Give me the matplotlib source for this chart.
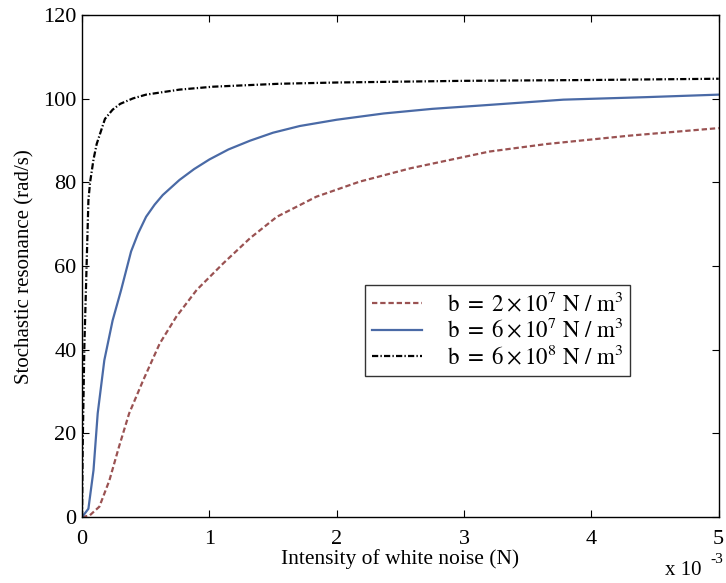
import numpy as np
import matplotlib.pyplot as plt

plt.rcParams['font.family'] = ['Liberation Serif', 'DejaVu Serif']
plt.rcParams['mathtext.fontset'] = 'stix'

# x in units of 1e-3 N
X_LOW = [0, 0.06, 0.136, 0.215, 0.29, 0.37, 0.48, 0.61, 0.74, 0.9, 1.11, 1.32, 1.53,
         1.84, 2.18, 2.58, 2.89, 3.2, 3.65, 4.3, 5.0]
Y_LOW = [0, 0.4, 2.5, 8.8, 16.8, 24.8, 32.7, 41.5, 47.9, 54.3, 60.7, 66.7, 71.8,
         76.6, 80.2, 83.4, 85.4, 87.4, 89.2, 91.2, 93.0]

X_MID = [0, 0.05, 0.09, 0.123, 0.175, 0.24, 0.306, 0.385, 0.44, 0.503, 0.57, 0.634,
         0.765, 0.88, 1.0, 1.15, 1.32, 1.5, 1.71, 2.0, 2.37, 2.75, 3.13, 3.78, 4.43, 5.0]
Y_MID = [0, 2.0, 11.2, 24.8, 37.5, 47.0, 54.2, 63.5, 67.8, 71.8, 74.7, 77.0,
         80.6, 83.2, 85.5, 87.9, 90.0, 91.9, 93.5, 95.0, 96.5, 97.6, 98.4, 99.8, 100.4, 101.0]

X_HIGH = [0, 0.005, 0.018, 0.05, 0.063, 0.09, 0.115, 0.18, 0.24, 0.3, 0.4, 0.503,
          0.765, 1.03, 1.55, 2.0, 3.0, 4.0, 5.0]
Y_HIGH = [0, 16.7, 40.6, 75.7, 80.0, 85.5, 89.2, 95.2, 97.4, 98.8, 100.1, 101.0,
          102.2, 102.9, 103.6, 103.9, 104.3, 104.5, 104.8]

LABELS = [r'$\mathrm{b\ =\ 2\times10^{7}\ N\ /\ m^{3}}$',
          r'$\mathrm{b\ =\ 6\times10^{7}\ N\ /\ m^{3}}$',
          r'$\mathrm{b\ =\ 6\times10^{8}\ N\ /\ m^{3}}$']

fig = plt.figure(figsize=(7.26, 5.83), dpi=100)
ax = fig.add_axes([0.113, 0.113, 0.877, 0.861])

ax.plot(X_LOW, Y_LOW, color='#9a5252', lw=1.6, dashes=(2.4, 1.3), label=LABELS[0])
ax.plot(X_MID, Y_MID, '-', color='#4a6aa6', lw=1.6, label=LABELS[1])
ax.plot(X_HIGH, Y_HIGH, color='black', lw=1.6, dashes=(2.8, 1.0, 0.6, 1.0), label=LABELS[2])

ax.set_xlim(0, 5)
ax.set_ylim(0, 120)
ax.set_xticks([0, 1, 2, 3, 4, 5])
ax.set_yticks([0, 20, 40, 60, 80, 100, 120])
ax.tick_params(direction='in', length=5, top=True, right=True, labelsize=16)
ax.tick_params(axis='x', pad=9)
ax.tick_params(axis='y', pad=4)
for s in ax.spines.values():
    s.set_linewidth(1.0)

ax.set_xlabel('Intensity of white noise (N)', fontsize=15.5, labelpad=0)
ax.set_ylabel('Stochastic resonance (rad/s)', fontsize=15, labelpad=6)

leg = ax.legend(loc='upper left', bbox_to_anchor=(0.444, 0.462), fontsize=16.5,
                frameon=True, fancybox=False, edgecolor='black', handlelength=2.2,
                borderpad=0.3, labelspacing=0.1, handletextpad=1.1, borderaxespad=0)
leg.get_frame().set_linewidth(1.0)

fig.text(0.916, 0.014, 'x 10', fontsize=15, va='baseline')
fig.text(0.979, 0.034, '-3', fontsize=11, va='baseline')

fig.savefig('out.png', dpi=100)
